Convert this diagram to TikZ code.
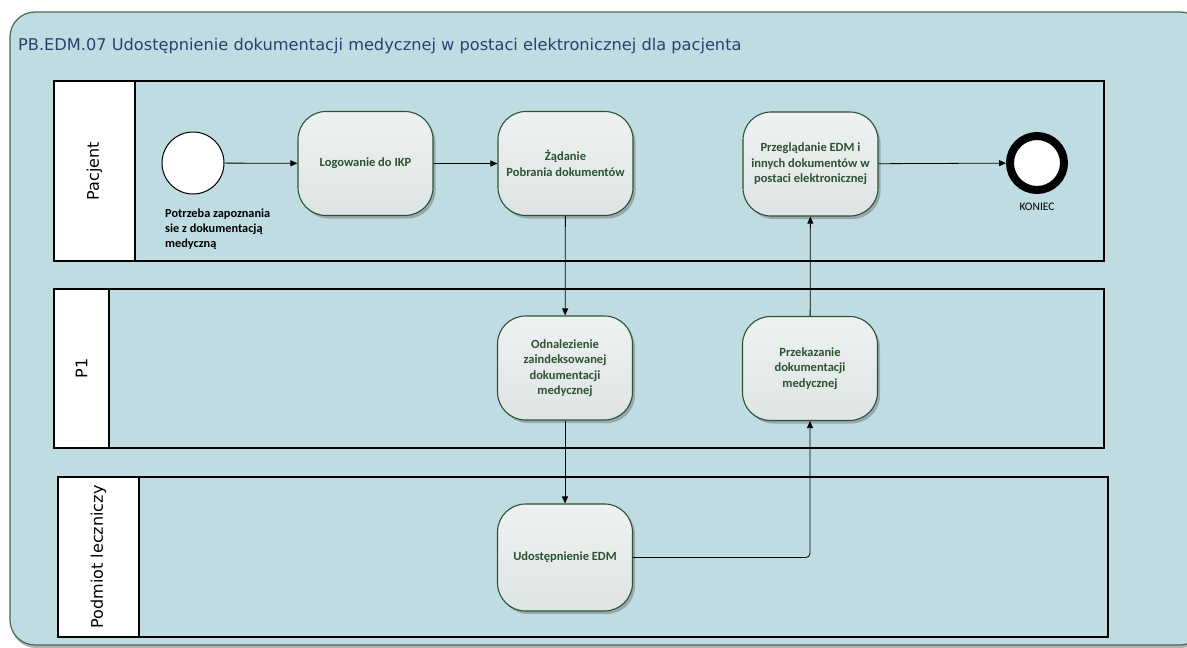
\documentclass[tikz,border=0pt]{standalone}
\usepackage{fontspec}
\setmainfont{Carlito}
\newfontfamily\lanefont{DejaVu Sans}
\usetikzlibrary{shadows,arrows.meta}
\definecolor{poolblue}{RGB}{192,220,227}
\definecolor{framegreen}{RGB}{70,104,84}
\definecolor{taskgreen}{RGB}{44,82,50}
\definecolor{titleblue}{RGB}{44,64,112}
\definecolor{tasklight}{RGB}{238,241,241}
\definecolor{taskdark}{RGB}{222,228,228}

\begin{document}
\begin{tikzpicture}[x=1pt, y=-1pt,
  task/.style={draw=taskgreen, line width=1.1pt, rounded corners=28pt,
    minimum width=135pt, minimum height=104pt, inner sep=2pt,
    top color=tasklight, bottom color=taskdark,
    drop shadow={shadow xshift=2.5pt, shadow yshift=-3pt, opacity=0.35, fill=black!70},
    text=taskgreen, align=center, font=\bfseries\fontsize{12.5}{15.5}\selectfont},
  flow/.style={-{Triangle[length=7pt,width=6pt]}, line width=0.8pt},
  lane/.style={draw, line width=1.3pt},
  lanehead/.style={draw, line width=1.3pt, fill=white, inner sep=0pt, rotate=90,
    font=\lanefont\fontsize{16}{18}\selectfont}
  ]
  \useasboundingbox (0,0) rectangle (1187,648);
  \clip (0,0) rectangle (1187,648);

  % pool frame
  \draw[framegreen, line width=1.2pt, fill=poolblue, rounded corners=25pt,
    drop shadow={shadow xshift=1pt, shadow yshift=-3pt, opacity=0.5, fill=black!60}]
    (10,12) rectangle (1205,645);
  \node[anchor=west, inner sep=0pt, text=titleblue,
    font=\lanefont\fontsize{16.2}{18}\selectfont] (title) at (18,46)
    {PB.EDM.07 Udostępnienie dokumentacji medycznej w postaci elektronicznej dla pacjenta};

  % lanes
  \draw[lane] (54,81) rectangle (1104,261);
  \node[lanehead, minimum width=180pt, minimum height=81pt] (hpacjent) at (94.5,171) {Pacjent};
  \draw[lane] (54,289) rectangle (1104,448);
  \node[lanehead, minimum width=159pt, minimum height=55pt] (hp1) at (81.5,368.5) {P1};
  \draw[lane] (58,477) rectangle (1108,637);
  \node[lanehead, minimum width=160pt, minimum height=81pt] (hpodmiot) at (98.5,557) {Podmiot leczniczy};

  % events
  \node[circle, draw, line width=1pt, fill=white, minimum size=62pt] (start) at (193,163) {};
  \node[anchor=north west, align=left, inner sep=0pt,
    font=\bfseries\fontsize{12.3}{15}\selectfont] (startlbl) at (165,209)
    {Potrzeba zapoznania\\sie z dokumentacją\\medyczną};
  \node[circle, draw, line width=8pt, fill=white, minimum size=54pt] (koniec) at (1037,163) {};
  \node[inner sep=0pt, font=\fontsize{11.5}{13}\selectfont] (koniecl) at (1037,207) {KONIEC};

  % tasks
  \node[task] (logowanie) at (365.5,163.5) {Logowanie do IKP};
  \node[task] (zadanie) at (565.5,163.5) {Żądanie\\Pobrania dokumentów};
  \node[task] (przegl) at (810.5,164) {Przeglądanie EDM i\\innych dokumentów w\\postaci elektronicznej};
  \node[task] (odnal) at (565,368) {Odnalezienie\\zaindeksowanej\\dokumentacji\\medycznej};
  \node[task] (przekaz) at (810,368.5) {Przekazanie\\dokumentacji\\medycznej};
  \node[task, minimum height=107pt] (udost) at (565,557.5) {Udostępnienie EDM};

  % flows
  \draw[flow] (start) -- (logowanie);
  \draw[flow] (logowanie) -- (zadanie);
  \draw[flow] (przegl) -- (koniec);
  \draw[flow] (zadanie) -- (odnal);
  \draw[flow] (odnal) -- (udost);
  \draw[flow, rounded corners=4pt] (udost.east) -| (przekaz.south);
  \draw[flow] (przekaz) -- (przegl);
\end{tikzpicture}
\end{document}
